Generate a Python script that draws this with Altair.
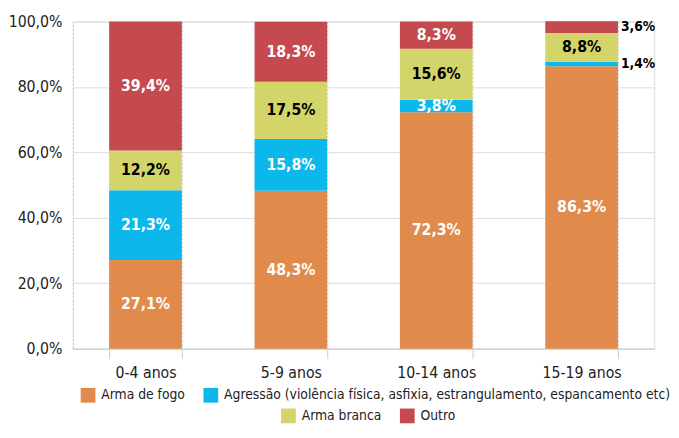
import altair as alt
import pandas as pd

groups = ["0-4 anos", "5-9 anos", "10-14 anos", "15-19 anos"]
series = ["Arma de fogo",
          "Agressão (violência física, asfixia, estrangulamento, espancamento etc)",
          "Arma branca", "Outro"]
colors = ["#E08B4B", "#0CB8EB", "#D3D56A", "#C44A4F"]
arma_fogo = [27.1, 48.3, 72.3, 86.3]
agressao = [21.3, 15.8, 3.8, 1.4]
arma_branca = [12.2, 17.5, 15.6, 8.8]
outro = [39.4, 18.3, 8.3, 3.6]

FONT = "DejaVu Sans Condensed"

rows = []
for gi, g in enumerate(groups):
    cum = 0.0
    for si, (s, vals) in enumerate(zip(series, [arma_fogo, agressao, arma_branca, outro])):
        v = vals[gi]
        lo = cum
        cum += v
        outside = v < 5 and g == "15-19 anos"
        rows.append({
            "grupo": g, "serie": s, "ordem": si, "valor": v,
            "y0": lo, "y1": cum, "mid": lo + v / 2,
            "rotulo": f"{v:.1f}".replace(".", ",") + "%",
            "cor_texto": "black" if (s == "Arma branca" or outside) else "white",
            "fora": outside,
            "linha": 0 if si < 2 else 1,
        })
df = pd.DataFrame(rows)

xenc = alt.X("grupo:N", sort=groups, title=None,
             scale=alt.Scale(paddingInner=0.5, paddingOuter=0.25),
             axis=alt.Axis(labelAngle=0, labelFontSize=16, labelColor="#222",
                           labelFont=FONT, tickBand="extent", tickSize=10,
                           tickColor="#ccc", domainColor="#ccc", grid=True,
                           gridDash=[2, 2], gridColor="#ccc", labelPadding=6))
yenc = alt.Y("y0:Q", title=None, scale=alt.Scale(domain=[0, 100]),
             axis=alt.Axis(values=[0, 20, 40, 60, 80, 100], labelFontSize=16,
                           labelFont=FONT, labelColor="#222",
                           labelExpr="replace(format(datum.value, '.1f'), '.', ',') + '%'",
                           gridColor="#dcdcdc", domain=True, domainDash=[2, 2],
                           domainColor="#ccc", ticks=False, labelPadding=11))

def legend(x, y):
    return alt.Legend(title=None, orient="none", legendX=x, legendY=y,
                      direction="horizontal", symbolType="square", symbolSize=225,
                      symbolStrokeWidth=0, labelFontSize=14, labelFont=FONT,
                      labelColor="#222", labelLimit=600, columnPadding=18,
                      labelOffset=6)

bars1 = alt.Chart(df[df["linha"] == 0]).mark_bar().encode(
    x=xenc, y=yenc, y2="y1:Q",
    color=alt.Color("serie:N", sort=series[:2],
                    scale=alt.Scale(domain=series[:2], range=colors[:2]),
                    legend=legend(8, 373)),
)
bars2 = alt.Chart(df[df["linha"] == 1]).mark_bar().encode(
    x=xenc, y=yenc, y2="y1:Q",
    color=alt.Color("serie2:N", sort=series[2:],
                    scale=alt.Scale(domain=series[2:], range=colors[2:]),
                    legend=legend(212, 394)),
).transform_calculate(serie2="datum.serie")

inside = alt.Chart(df[~df["fora"]]).mark_text(fontSize=16, font=FONT, fontWeight="bold").encode(
    x=alt.X("grupo:N", sort=groups),
    y=alt.Y("mid:Q"),
    text="rotulo:N",
    color=alt.Color("cor_texto:N", scale=None),
)

outside = alt.Chart(df[df["fora"]]).mark_text(fontSize=14, font=FONT, fontWeight="bold",
                                               align="left", dx=40).encode(
    x=alt.X("grupo:N", sort=groups),
    y=alt.Y("mid:Q"),
    text="rotulo:N",
    color=alt.Color("cor_texto:N", scale=None),
)

chart = alt.layer(bars1, bars2, inside, outside).resolve_scale(color="independent").properties(
    width=592, height=333
).configure_view(fill="#f4f4f4", stroke=None).configure(
    padding={"left": 0, "right": 0, "top": 2, "bottom": 0})

chart.save("out.html", embed_options={"renderer": "svg", "actions": False})
